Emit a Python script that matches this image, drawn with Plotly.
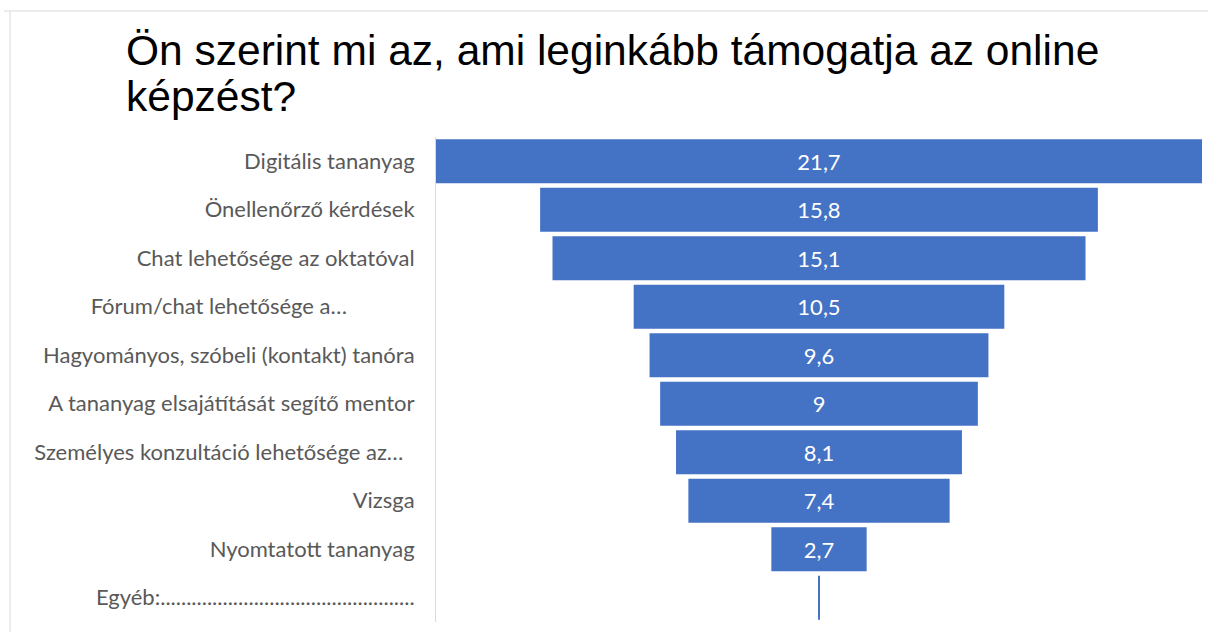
import plotly.graph_objects as go

# ---- data ----
categories = [
    "Digitális tananyag",
    "Önellenőrző kérdések",
    "Chat lehetősége az oktatóval",
    "Fórum/chat lehetősége a…",
    "Hagyományos, szóbeli (kontakt) tanóra",
    "A tananyag elsajátítását segítő mentor",
    "Személyes konzultáció lehetősége az…",
    "Vizsga",
    "Nyomtatott tananyag",
    "Egyéb:" + "." * 49,
]
values = [21.7, 15.8, 15.1, 10.5, 9.6, 9, 8.1, 7.4, 2.7, 0.05]
value_labels = ["21,7", "15,8", "15,1", "10,5", "9,6", "9", "8,1", "7,4", "2,7", ""]

title_lines = ["Ön szerint mi az, ami leginkább támogatja az online", "képzést?"]

# ---- layout helpers ----
W, H = 1208, 632
px = lambda x: x / W
py = lambda y: 1 - y / H

BLUE = "#4472C4"
GRID = "#d9d9d9"
LABEL = "#595959"

# trailing padding for truncated labels (as in source chart)
pad = {3: 12, 6: 2}
tick_text = [c + "\u00a0" * pad.get(i, 0) for i, c in enumerate(categories)]

fig = go.Figure(
    go.Funnel(
        y=categories,
        x=values,
        orientation="h",
        text=value_labels,
        textinfo="text",
        textposition="inside",
        insidetextanchor="middle",
        textfont=dict(color="white", size=22, family="Lato"),
        marker=dict(color=BLUE, line=dict(width=0)),
        connector=dict(visible=False),
        hoverinfo="skip",
    )
)

vmax = max(values)
fig.update_layout(
    width=W,
    height=H,
    margin=dict(l=0, r=0, t=0, b=0),
    paper_bgcolor="white",
    plot_bgcolor="white",
    showlegend=False,
    funnelgap=0.09,
    xaxis=dict(
        domain=[px(436), px(1202)],
        range=[-vmax / 2, vmax / 2],
        visible=False,
        fixedrange=True,
    ),
    yaxis=dict(
        domain=[py(622), py(137)],
        range=[len(categories) - 0.5, -0.5],
        tickmode="array",
        tickvals=categories,
        ticktext=tick_text,
        showline=True,
        linecolor=GRID,
        linewidth=1,
        ticks="",
        showgrid=False,
        ticklabelstandoff=16,
        tickfont=dict(family="Lato", size=22, color=LABEL),
        automargin=False,
        fixedrange=True,
    ),
    shapes=[
        dict(type="line", xref="paper", yref="paper", x0=px(4), x1=1, y0=py(11), y1=py(11),
             line=dict(color=GRID, width=1)),
        dict(type="line", xref="paper", yref="paper", x0=px(10), x1=px(10), y0=py(11), y1=0,
             line=dict(color=GRID, width=1)),
    ],
    annotations=[
        dict(text=title_lines[0], xref="paper", yref="paper", x=px(124), y=py(25),
             xanchor="left", yanchor="top", showarrow=False,
             font=dict(family="Liberation Sans", size=42.5, color="black")),
        dict(text=title_lines[1], xref="paper", yref="paper", x=px(124), y=py(71),
             xanchor="left", yanchor="top", showarrow=False,
             font=dict(family="Liberation Sans", size=42.5, color="black")),
    ],
)

fig.write_html(
    "out.html",
    config={"displayModeBar": False},
    post_script="document.body.style.margin='0px';document.body.style.overflow='hidden';",
)
